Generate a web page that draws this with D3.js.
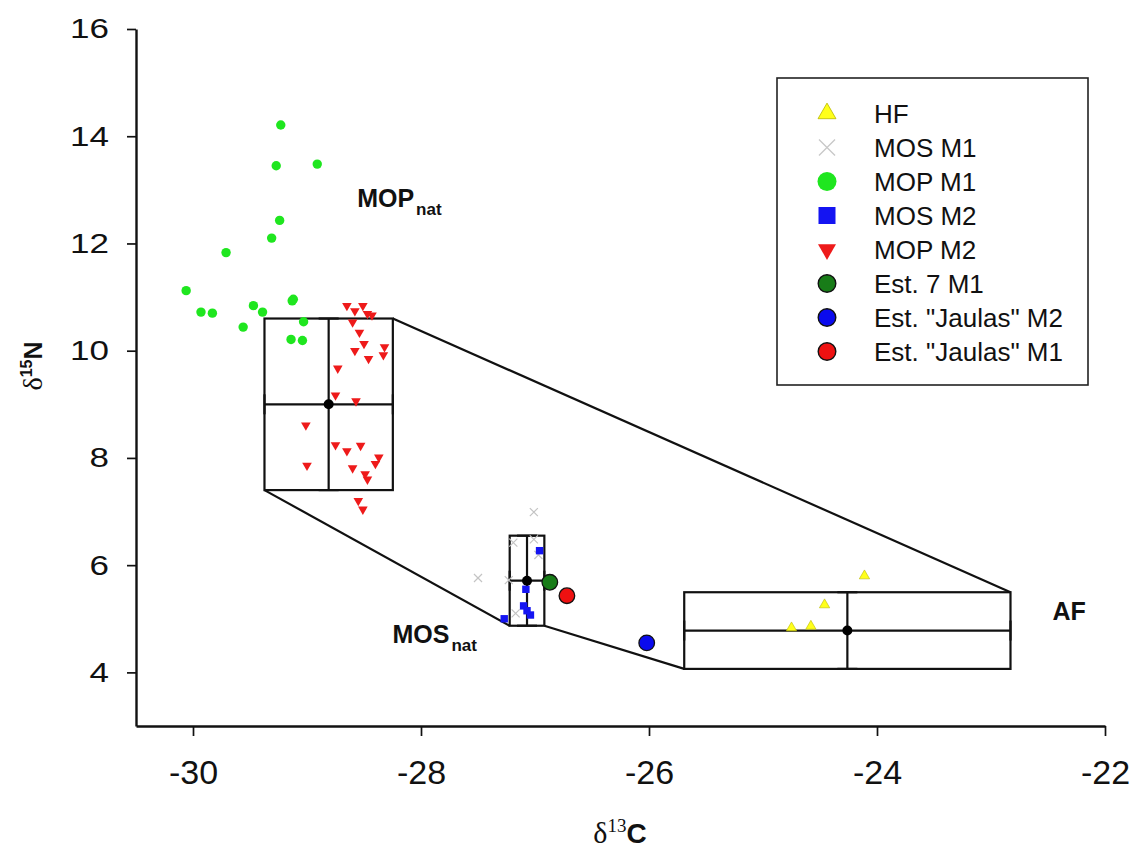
<!DOCTYPE html>
<html>
<head>
<meta charset="utf-8">
<script src="https://cdn.jsdelivr.net/npm/d3@7"></script>
<style>
  html, body { margin: 0; padding: 0; background: #fff; }
  svg { display: block; }
  text { font-family: "Liberation Sans", Arial, sans-serif; fill: #111; }
</style>
</head>
<body>
<svg id="chart" width="1131" height="852"></svg>
<script>
// ---- data: [δ13C, δ15N] pairs for each series ----
const hf = [[-24.11, 5.80], [-24.46, 5.26], [-24.75, 4.83], [-24.58, 4.86]];
const mosM1 = [[-27.01, 6.99], [-27.50, 5.76], [-27.19, 6.42], [-27.01, 6.48],
               [-26.97, 6.19], [-27.23, 5.72], [-27.17, 5.10]];
const mopM1 = [[-29.23, 14.21], [-29.27, 13.45], [-28.91, 13.48], [-29.24, 12.43],
               [-29.31, 12.10], [-29.71, 11.83], [-30.06, 11.12], [-29.93, 10.72],
               [-29.83, 10.70], [-29.47, 10.84], [-29.39, 10.72], [-29.56, 10.44],
               [-29.13, 10.93], [-29.12, 10.96], [-29.03, 10.54], [-29.14, 10.21],
               [-29.04, 10.19]];
const mosM2 = [[-26.96, 6.27], [-27.08, 5.55], [-27.10, 5.24], [-27.07, 5.15],
               [-27.04, 5.07], [-27.27, 5.00]];
const mopM2 = [[-28.65, 10.84], [-28.58, 10.74], [-28.51, 10.84], [-28.47, 10.69],
               [-28.43, 10.66], [-28.60, 10.53], [-28.54, 10.34], [-28.50, 10.13],
               [-28.58, 10.00], [-28.46, 9.85], [-28.32, 10.07], [-28.33, 9.92],
               [-28.73, 9.67], [-28.75, 9.17], [-28.57, 9.06], [-29.01, 8.61],
               [-28.75, 8.24], [-28.65, 8.13], [-28.53, 8.23], [-28.37, 8.01],
               [-28.40, 7.89], [-29.00, 7.86], [-28.60, 7.81], [-28.49, 7.70],
               [-28.47, 7.60], [-28.55, 7.20], [-28.51, 7.04]];
const est7M1 = [[-26.87, 5.68]];
const jaulasM2 = [[-26.02, 4.55]];
const jaulasM1 = [[-26.72, 5.43]];

// source end-members: mean ± SD
const sourceNames = ["MOP", "MOS", "AF"];
const sourceMeanC = [-28.81, -27.07, -24.26];
const sourceMeanN = [9.00, 5.71, 4.78];
const sourceSdC = [0.563, 0.152, 1.431];
const sourceSdN = [1.60, 0.84, 0.715];

const xTicks = [-30, -28, -26, -24, -22];
const yTicks = [4, 6, 8, 10, 12, 14, 16];

const legendLabels = ["HF", "MOS M1", "MOP M1", "MOS M2", "MOP M2",
                      "Est. 7 M1", "Est. \"Jaulas\" M2", "Est. \"Jaulas\" M1"];

// ---- scales ----
const svg = d3.select("#chart");
const x = d3.scaleLinear().domain([-30.5, -22]).range([136, 1105]);
const y = d3.scaleLinear().domain([3, 16]).range([726, 29]);

// ---- axes ----
const xAxis = svg.append("g")
  .attr("transform", `translate(0,${y(3)})`)
  .call(d3.axisBottom(x).tickValues(xTicks).tickFormat(d => String(d))
        .tickSize(10).tickSizeOuter(0).tickPadding(24));
xAxis.select(".domain").attr("stroke", "#111").attr("stroke-width", 2.4);
xAxis.selectAll(".tick line").attr("stroke", "#111").attr("stroke-width", 1.7);
xAxis.selectAll(".tick text").attr("fill", "#111")
  .style("font-family", "'Liberation Sans', Arial, sans-serif")
  .style("font-size", "34px");

const yAxis = svg.append("g")
  .attr("transform", `translate(${x(-30.5)},0)`)
  .call(d3.axisLeft(y).tickValues(yTicks).tickFormat(d => String(d))
        .tickSize(9).tickSizeOuter(0));
yAxis.select(".domain").attr("stroke", "#111").attr("stroke-width", 2.4);
yAxis.selectAll(".tick line").attr("stroke", "#111").attr("stroke-width", 1.7);
const yStretch = 1.25;
yAxis.selectAll(".tick text").attr("fill", "#111")
  .style("font-family", "'Liberation Sans', Arial, sans-serif")
  .style("font-size", "28px")
  .attr("x", -27 / yStretch)
  .attr("transform", `scale(${yStretch},1)`);

// ---- axis titles ----
const xTitle = svg.append("text")
  .attr("x", 620).attr("y", 843).attr("text-anchor", "middle");
xTitle.append("tspan").text("δ")
  .style("font-family", "'Liberation Serif', 'Times New Roman', serif").style("font-size", "30px");
xTitle.append("tspan").text("13").attr("dy", -11)
  .style("font-family", "'Liberation Serif', 'Times New Roman', serif").style("font-size", "19px");
xTitle.append("tspan").text("C").attr("dy", 11)
  .style("font-weight", "bold").style("font-size", "28px");

const yTitle = svg.append("text")
  .attr("transform", "translate(42,366) rotate(-90)").attr("text-anchor", "middle");
yTitle.append("tspan").text("δ")
  .style("font-family", "'Liberation Serif', 'Times New Roman', serif").style("font-size", "28px");
yTitle.append("tspan").text("15").attr("dy", -10)
  .style("font-size", "16px").style("font-weight", "bold");
yTitle.append("tspan").text("N").attr("dy", 10)
  .style("font-weight", "bold").style("font-size", "25px");

// ---- mixing polygon joining the source boxes ----
const corner = (i, sc, sn) => [x(sourceMeanC[i] + sc * sourceSdC[i]), y(sourceMeanN[i] + sn * sourceSdN[i])];
const polyLines = [
  [corner(0, 1, 1), corner(2, 1, 1)],
  [corner(0, -1, -1), corner(1, -1, -1)],
  [corner(1, 1, -1), corner(2, -1, -1)]
];
svg.append("g").selectAll("line").data(polyLines).join("line")
  .attr("x1", d => d[0][0]).attr("y1", d => d[0][1])
  .attr("x2", d => d[1][0]).attr("y2", d => d[1][1])
  .attr("stroke", "#111").attr("stroke-width", 2.2);

// ---- source boxes: mean ± SD rectangles with error bars ----
const capHalf = 10;
const boxes = svg.append("g").attr("stroke", "#111").attr("stroke-width", 2.2).attr("fill", "none");
sourceNames.forEach((name, i) => {
  const cx = x(sourceMeanC[i]), cy = y(sourceMeanN[i]);
  const x0 = x(sourceMeanC[i] - sourceSdC[i]), x1 = x(sourceMeanC[i] + sourceSdC[i]);
  const y0 = y(sourceMeanN[i] + sourceSdN[i]), y1 = y(sourceMeanN[i] - sourceSdN[i]);
  const g = boxes.append("g");
  g.append("rect").attr("x", x0).attr("y", y0).attr("width", x1 - x0).attr("height", y1 - y0);
  g.append("line").attr("x1", x0).attr("x2", x1).attr("y1", cy).attr("y2", cy);
  g.append("line").attr("x1", cx).attr("x2", cx).attr("y1", y0).attr("y2", y1);
  // caps
  g.append("line").attr("x1", cx - capHalf).attr("x2", cx + capHalf).attr("y1", y0).attr("y2", y0);
  g.append("line").attr("x1", cx - capHalf).attr("x2", cx + capHalf).attr("y1", y1).attr("y2", y1);
  g.append("line").attr("x1", x0).attr("x2", x0).attr("y1", cy - capHalf).attr("y2", cy + capHalf);
  g.append("line").attr("x1", x1).attr("x2", x1).attr("y1", cy - capHalf).attr("y2", cy + capHalf);
});

// ---- scatter series ----
const sym = (type, size) => d3.symbol().type(type).size(size)();
const pts = svg.append("g");

pts.append("g").selectAll("path").data(mosM1).join("path")
  .attr("transform", d => `translate(${x(d[0])},${y(d[1])})`)
  .attr("d", sym(d3.symbolX, 44)).attr("fill", "none")
  .attr("stroke", "#c4c4c4").attr("stroke-width", 1.2);

pts.append("g").selectAll("circle").data(mopM1).join("circle")
  .attr("cx", d => x(d[0])).attr("cy", d => y(d[1])).attr("r", 4.7)
  .attr("fill", "#1fe61f");

pts.append("g").selectAll("path").data(mopM2).join("path")
  .attr("transform", d => `translate(${x(d[0])},${y(d[1])}) rotate(180)`)
  .attr("d", sym(d3.symbolTriangle, 40)).attr("fill", "#ee1a1a");

pts.append("g").selectAll("rect").data(mosM2).join("rect")
  .attr("x", d => x(d[0]) - 3.7).attr("y", d => y(d[1]) - 3.7)
  .attr("width", 7.4).attr("height", 7.4).attr("fill", "#1414f2");

pts.append("g").selectAll("path").data(hf).join("path")
  .attr("transform", d => `translate(${x(d[0])},${y(d[1])})`)
  .attr("d", sym(d3.symbolTriangle, 46)).attr("fill", "#ffff1a")
  .attr("stroke", "#b8b800").attr("stroke-width", 0.6);

const bigCircles = [[est7M1, "#187c18"], [jaulasM2, "#0a0aee"], [jaulasM1, "#ee1111"]];
bigCircles.forEach(([data, color]) => {
  pts.append("g").selectAll("circle").data(data).join("circle")
    .attr("cx", d => x(d[0])).attr("cy", d => y(d[1])).attr("r", 7.8)
    .attr("fill", color).attr("stroke", "#111").attr("stroke-width", 1.3);
});

// mean markers
svg.append("g").selectAll("circle").data(sourceNames).join("circle")
  .attr("cx", (d, i) => x(sourceMeanC[i])).attr("cy", (d, i) => y(sourceMeanN[i]))
  .attr("r", 5).attr("fill", "#000");

// ---- source labels ----
const labelMain = ["MOP", "MOS", "AF"];
const labelSub = ["nat", "nat", ""];
const labelC = [-28.56, -28.25, -22.46];
const labelN = [12.68, 4.55, 4.98];
labelMain.forEach((t, i) => {
  const tx = svg.append("text").attr("x", x(labelC[i])).attr("y", y(labelN[i]))
    .style("font-weight", "bold").style("font-size", "25px");
  tx.append("tspan").text(t);
  if (labelSub[i]) tx.append("tspan").text(labelSub[i]).attr("dx", 2).attr("dy", 8)
    .style("font-size", "17px");
});

// ---- legend ----
const legend = svg.append("g");
legend.append("rect").attr("x", 777).attr("y", 78).attr("width", 311).attr("height", 307)
  .attr("fill", "#fff").attr("stroke", "#222").attr("stroke-width", 1.6);
const rowY = i => 113.5 + i * 34;
const symX = 827;
legendLabels.forEach((label, i) => {
  const g = legend.append("g").attr("transform", `translate(${symX},${rowY(i)})`);
  if (i === 0) g.append("path").attr("d", sym(d3.symbolTriangle, 140))
      .attr("fill", "#ffff1a").attr("stroke", "#b8b800").attr("stroke-width", 0.8);
  else if (i === 1) g.append("path").attr("d", sym(d3.symbolX, 170))
      .attr("fill", "none").attr("stroke", "#c8c8c8").attr("stroke-width", 1.3);
  else if (i === 2) g.append("circle").attr("r", 9.5).attr("fill", "#1fe61f");
  else if (i === 3) g.append("rect").attr("x", -8.5).attr("y", -8.5).attr("width", 17).attr("height", 17)
      .attr("fill", "#1414f2");
  else if (i === 4) g.append("path").attr("d", sym(d3.symbolTriangle, 140))
      .attr("transform", "rotate(180)").attr("fill", "#ee1a1a");
  else {
    const col = ["#187c18", "#0a0aee", "#ee1111"][i - 5];
    g.append("circle").attr("r", 8.8).attr("fill", col).attr("stroke", "#111").attr("stroke-width", 1.4);
  }
  legend.append("text").attr("x", 874).attr("y", rowY(i) + 9)
    .style("font-size", "26px").text(label);
});
</script>
</body>
</html>
